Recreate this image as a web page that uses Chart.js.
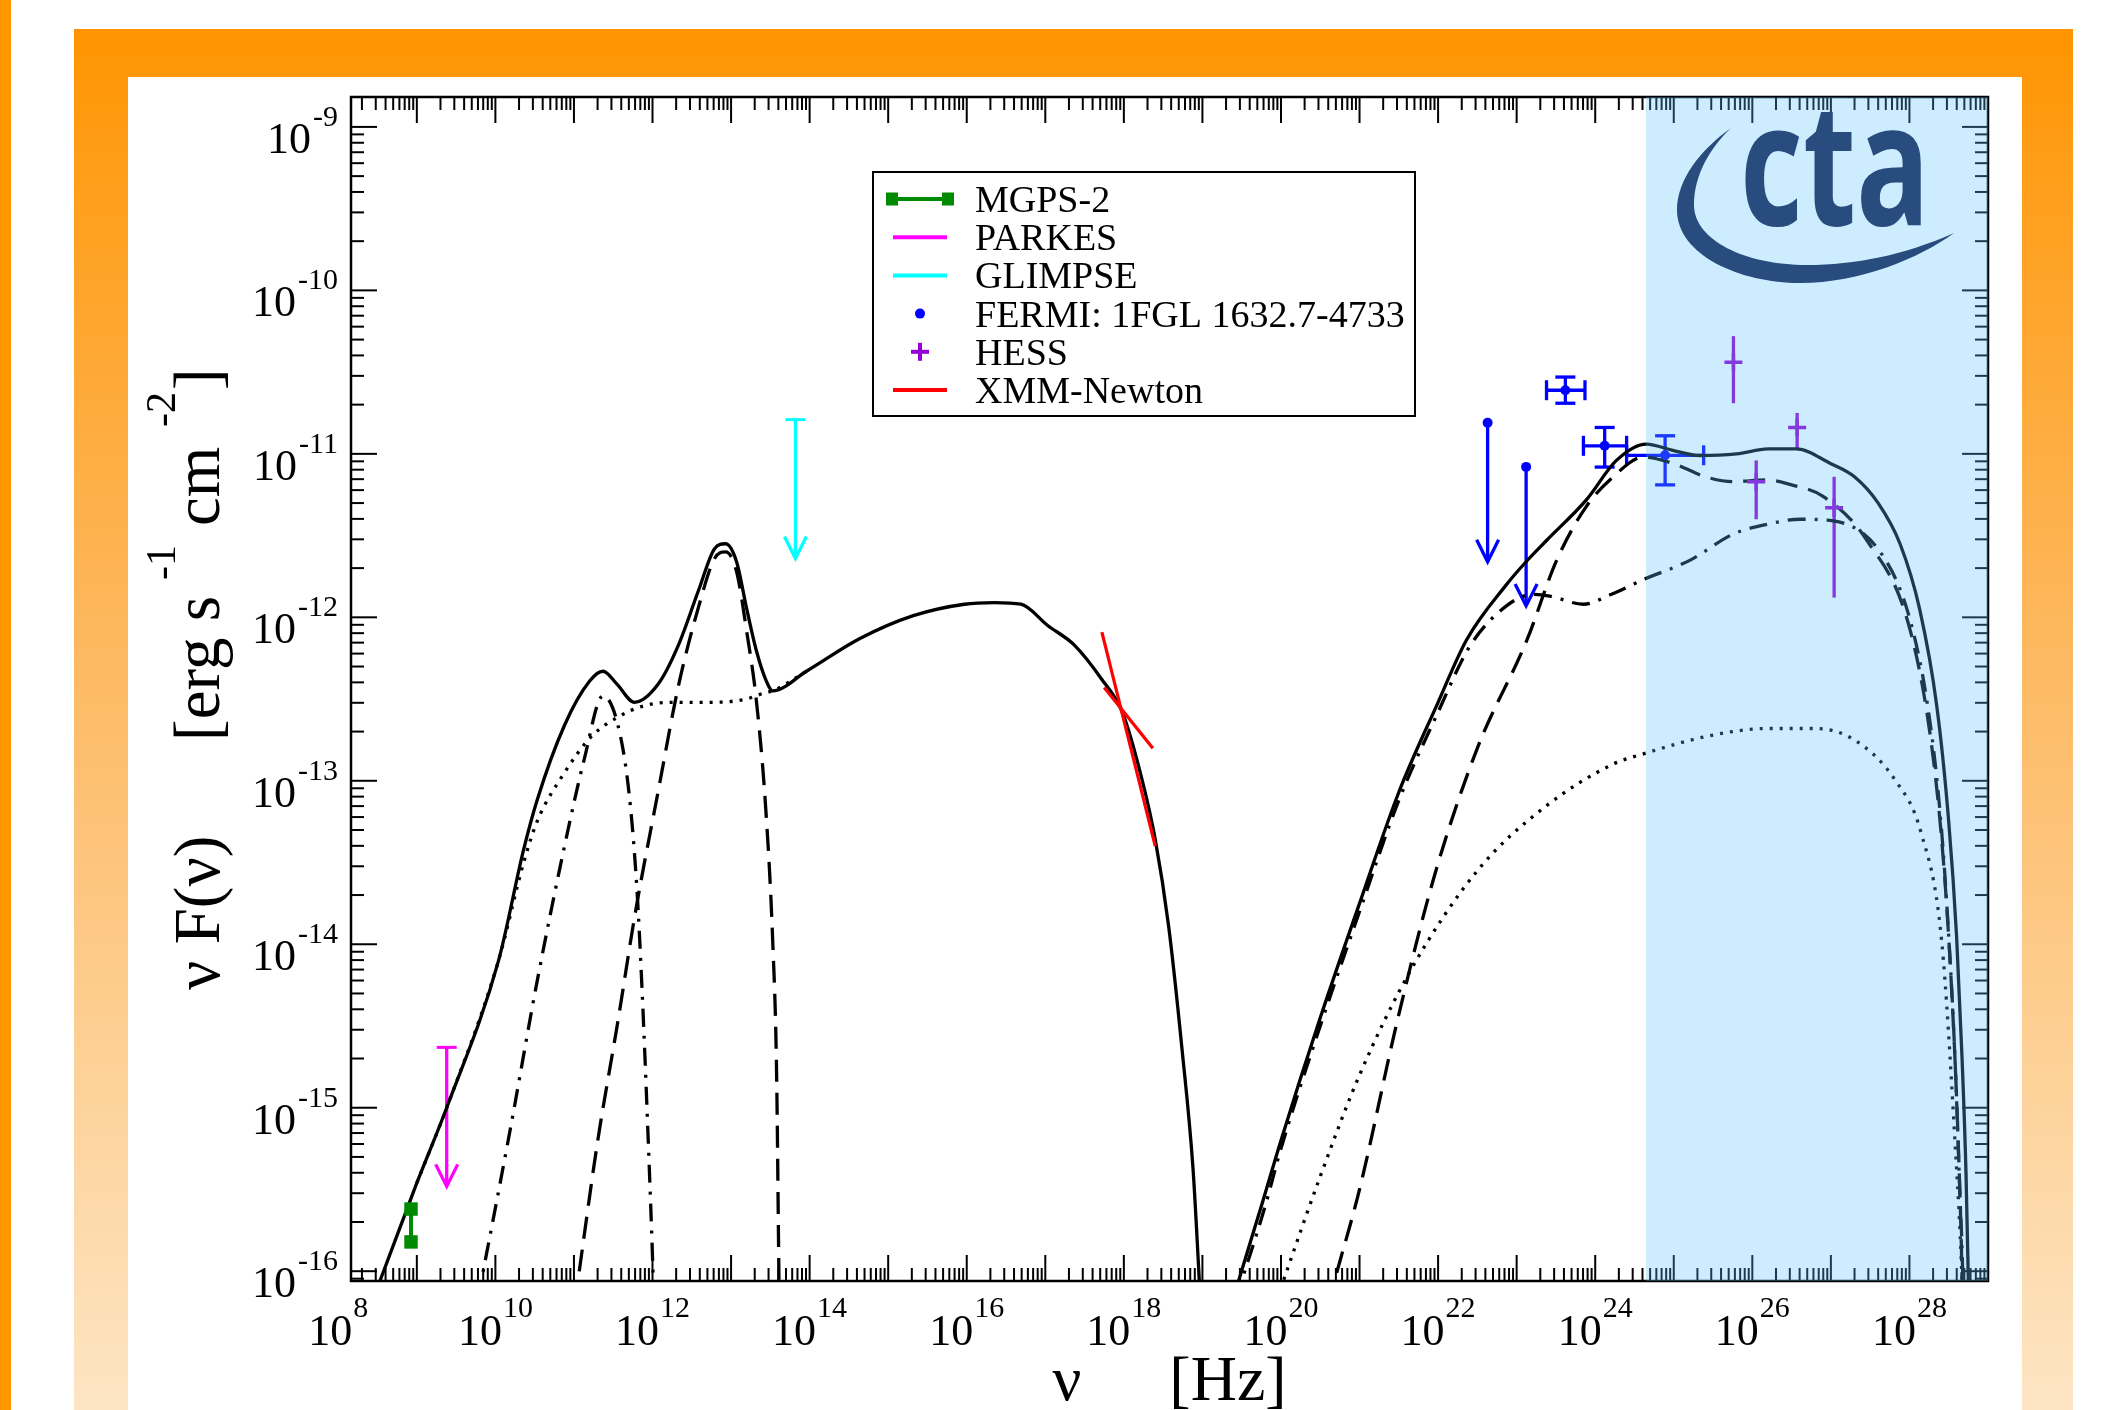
<!DOCTYPE html>
<html>
<head>
<meta charset="utf-8">
<title>SED — HESS J1632-478</title>
<script src="https://cdn.jsdelivr.net/npm/chart.js@4.4.1/dist/chart.umd.min.js"></script>
<style>
  html, body { margin:0; padding:0; background:#ffffff; }
  body { width:2107px; height:1410px; position:relative; overflow:hidden; }
  #strip { position:absolute; left:0; top:0; width:11px; height:1410px; background:#ff9800; }
  #frame { position:absolute; left:74px; top:29px; width:1999px; height:1381px;
           background:linear-gradient(to bottom, #ff9400 0%, #ff9c14 8%, #fdbb66 48%, #fde5c4 100%); }
  #panel { position:absolute; left:128px; top:77px; width:1894px; height:1333px; background:#ffffff; }
  #chart { position:absolute; left:0; top:0; }
</style>
</head>
<body>
<div id="strip"></div>
<div id="frame"></div>
<div id="panel"></div>
<canvas id="chart" width="2107" height="1410"></canvas>
<script>
// ================= DATA =================
// axis ranges, in log10 units
const X_LOG_RANGE = [8.162, 29.0];
const Y_LOG_RANGE = [-16.06, -8.817];

// tick labels (powers of ten)
const xTickExponents = [8, 10, 12, 14, 16, 18, 20, 22, 24, 26, 28];
const yTickExponents = [-9, -10, -11, -12, -13, -14, -15, -16];

// CTA energy band (Hz)
const ctaBandNu = [4.43e24, 1e29];

// ---- model curves: log10(nu / Hz) and log10(nu F(nu) / erg s^-1 cm^-2) ----
const totalLowLogNu = [8.40, 8.53, 9.00, 9.38, 10.04, 10.36, 10.53, 10.88, 11.20, 11.37, 11.55, 11.77, 12.07, 12.33, 12.59, 12.79, 12.93, 13.07, 13.20, 13.32, 13.44, 13.53, 13.96, 14.64, 15.32, 15.97, 16.35, 16.69, 17.03, 17.37, 17.72, 17.98, 18.23, 18.40, 18.57, 18.74, 18.88, 18.96, 19.00];
const totalLowLogF  = [-16.22, -16.06, -15.46, -15.00, -14.10, -13.42, -13.12, -12.66, -12.39, -12.33, -12.41, -12.52, -12.41, -12.17, -11.83, -11.58, -11.55, -11.66, -11.95, -12.20, -12.38, -12.45, -12.33, -12.13, -11.99, -11.92, -11.91, -11.92, -12.05, -12.17, -12.38, -12.58, -12.99, -13.36, -13.89, -14.64, -15.37, -16.05, -16.40];

const dottedLowLogNu = [9.00, 9.38, 10.04, 10.36, 10.53, 10.88, 11.22, 11.56, 11.90, 12.25, 12.76, 13.19, 13.44, 13.53, 13.96];
const dottedLowLogF  = [-15.46, -15.00, -14.10, -13.50, -13.25, -12.95, -12.73, -12.61, -12.54, -12.52, -12.52, -12.50, -12.46, -12.45, -12.33];

const dashDotLowLogNu = [9.68, 9.82, 10.19, 10.53, 10.88, 11.13, 11.37, 11.56, 11.70, 11.80, 11.87, 11.94, 12.01, 12.03];
const dashDotLowLogF  = [-16.40, -16.06, -15.13, -14.23, -13.40, -12.87, -12.48, -12.66, -13.07, -13.65, -14.31, -15.13, -16.06, -16.40];

const dashedLowLogNu = [10.95, 11.05, 11.30, 11.56, 11.78, 12.07, 12.33, 12.59, 12.79, 12.93, 13.07, 13.20, 13.32, 13.44, 13.53, 13.58, 13.61, 13.62];
const dashedLowLogF  = [-16.40, -16.06, -15.21, -14.47, -13.81, -13.07, -12.42, -11.93, -11.64, -11.60, -11.72, -12.09, -12.50, -13.16, -13.98, -14.80, -16.06, -16.40];

const totalHighLogNu = [19.25, 19.46, 19.77, 20.00, 20.50, 21.00, 21.50, 22.00, 22.36, 22.87, 23.12, 23.38, 23.89, 24.27, 24.65, 25.00, 25.33, 25.80, 26.20, 26.56, 27.00, 27.30, 27.60, 27.88, 28.13, 28.35, 28.50, 28.60, 28.67, 28.72, 28.75, 28.76];
const totalHighLogF  = [-16.40, -16.06, -15.57, -15.20, -14.45, -13.75, -13.07, -12.52, -12.14, -11.80, -11.66, -11.53, -11.28, -11.04, -10.94, -10.98, -11.01, -11.00, -10.97, -10.97, -11.06, -11.14, -11.30, -11.55, -11.95, -12.55, -13.25, -13.95, -14.70, -15.40, -16.06, -16.40];

const dashDotHighLogNu = [19.28, 19.50, 19.80, 20.00, 20.50, 21.00, 21.50, 22.00, 22.40, 22.87, 23.21, 23.42, 23.85, 24.20, 24.61, 25.21, 25.76, 26.20, 26.61, 27.03, 27.67, 28.01, 28.25, 28.40, 28.50, 28.58, 28.64, 28.68, 28.69];
const dashDotHighLogF  = [-16.40, -16.06, -15.60, -15.25, -14.50, -13.80, -13.12, -12.58, -12.18, -11.93, -11.86, -11.87, -11.92, -11.86, -11.77, -11.65, -11.49, -11.43, -11.40, -11.41, -11.63, -12.02, -12.60, -13.25, -13.95, -14.70, -15.50, -16.06, -16.40];

const dashedHighLogNu = [20.49, 20.68, 21.00, 21.48, 21.96, 22.50, 23.13, 23.51, 23.89, 24.23, 24.61, 25.00, 25.40, 25.75, 26.18, 26.50, 26.90, 27.46, 28.01, 28.30, 28.45, 28.55, 28.62, 28.67, 28.68];
const dashedHighLogF  = [-16.40, -16.06, -15.50, -14.47, -13.57, -12.80, -12.14, -11.65, -11.32, -11.14, -11.02, -11.06, -11.14, -11.17, -11.16, -11.19, -11.26, -11.53, -12.08, -12.85, -13.60, -14.40, -15.20, -16.06, -16.40];

const dottedHighLogNu = [19.79, 20.03, 20.50, 21.00, 21.65, 22.50, 23.36, 24.22, 24.65, 25.50, 26.20, 26.79, 27.30, 27.81, 28.15, 28.41, 28.58, 28.67, 28.69];
const dottedHighLogF  = [-16.40, -16.06, -15.42, -14.80, -14.16, -13.55, -13.16, -12.90, -12.83, -12.72, -12.68, -12.68, -12.75, -12.99, -13.32, -13.98, -15.21, -16.06, -16.40];

// ---- observations (nu in Hz, nuF(nu) in erg s^-1 cm^-2) ----
const mgpsNu   = [8.43e8, 8.43e8];
const mgpsFlux = [1.51e-16, 2.40e-16];

const parkesNu         = [2.4e9];
const parkesUpperLimit = [2.34e-15];

const glimpseNu         = [6.6e13];
const glimpseUpperLimit = [1.62e-11];

const fermiNu     = [4.17e23, 1.32e24, 7.76e24];
const fermiNuLo   = [2.40e23, 7.08e23, 2.51e24];
const fermiNuHi   = [7.41e23, 2.51e24, 2.40e25];
const fermiFlux   = [2.45e-11, 1.12e-11, 9.8e-12];
const fermiFluxLo = [2.04e-11, 8.3e-12, 6.46e-12];
const fermiFluxHi = [2.95e-11, 1.45e-11, 1.29e-11];

const fermiUlNu   = [4.27e22, 1.32e23];
const fermiUlFlux = [1.55e-11, 8.32e-12];

const hessNu     = [5.75e25, 1.12e26, 3.72e26, 1.10e27];
const hessFlux   = [3.63e-11, 6.76e-12, 1.45e-11, 4.68e-12];
const hessFluxLo = [2.04e-11, 3.98e-12, 1.07e-11, 1.32e-12];
const hessFluxHi = [5.25e-11, 9.12e-12, 1.78e-11, 7.24e-12];

const xmmSteepNu     = [5.25e17, 2.51e18];
const xmmSteepFlux   = [8.13e-13, 3.98e-14];
const xmmShallowNu   = [5.62e17, 2.34e18];
const xmmShallowFlux = [3.72e-13, 1.58e-13];

// ================= BUILD =================
const pts  = (xs, ys) => xs.map((x, i) => ({ x, y: ys[i] }));
const lpts = (lx, ly) => lx.map((x, i) => ({ x: 10 ** x, y: 10 ** ly[i] }));

const DASHED = [22, 11], DASHDOT = [18, 9, 3, 9], DOTTED = [3, 7];
function model(label, lx, ly, dash) {
  return { label, data: lpts(lx, ly), borderColor: '#000000', borderWidth: 3.3,
           borderDash: dash || [], pointRadius: 0, fill: false,
           cubicInterpolationMode: 'monotone' };
}

const datasets = [
  { label: 'CTA band', data: [{ x: ctaBandNu[0], y: 10 ** Y_LOG_RANGE[1] }, { x: ctaBandNu[1], y: 10 ** Y_LOG_RANGE[1] }],
    fill: 'start', backgroundColor: 'rgba(90,193,250,0.30)', borderColor: 'rgba(0,0,0,0)', borderWidth: 1, pointRadius: 0 },

  { label: 'MGPS-2', data: pts(mgpsNu, mgpsFlux), showLine: true,
    borderColor: '#008a00', backgroundColor: '#008a00', borderWidth: 4,
    pointStyle: 'rect', pointRadius: 9.5, pointBorderWidth: 0, pointBackgroundColor: '#008a00',
    legendSymbol: 'lineSquares', legendIndex: 0 },
  { label: 'PARKES', data: pts(parkesNu, parkesUpperLimit), showLine: false,
    borderColor: '#ff00ff', pointStyle: 'line', pointRadius: 10, pointBorderWidth: 3, pointBorderColor: '#ff00ff',
    upperLimit: true, legendSymbol: 'line', legendIndex: 1 },
  { label: 'GLIMPSE', data: pts(glimpseNu, glimpseUpperLimit), showLine: false,
    borderColor: '#00ffff', pointStyle: 'line', pointRadius: 10, pointBorderWidth: 3, pointBorderColor: '#00ffff',
    upperLimit: true, legendSymbol: 'line', legendIndex: 2 },
  { label: 'FERMI: 1FGL 1632.7-4733', data: pts(fermiNu, fermiFlux), showLine: false,
    borderColor: '#0000ff', pointStyle: 'circle', pointRadius: 5, pointBorderWidth: 0, pointBackgroundColor: '#0000ff',
    errorBars: { xLo: fermiNuLo, xHi: fermiNuHi, yLo: fermiFluxLo, yHi: fermiFluxHi, caps: true },
    legendSymbol: 'dot', legendIndex: 3 },
  { label: 'FERMI upper limits', data: pts(fermiUlNu, fermiUlFlux), showLine: false,
    borderColor: '#0000ff', pointStyle: 'circle', pointRadius: 5, pointBorderWidth: 0, pointBackgroundColor: '#0000ff',
    upperLimit: true },
  { label: 'HESS', data: pts(hessNu, hessFlux), showLine: false,
    borderColor: '#9400d3', pointStyle: 'cross', pointRadius: 9, pointBorderWidth: 3.5, pointBorderColor: '#9400d3',
    errorBars: { yLo: hessFluxLo, yHi: hessFluxHi, caps: false },
    legendSymbol: 'plus', legendIndex: 4 },
  { label: 'XMM-Newton', data: pts(xmmSteepNu, xmmSteepFlux), borderColor: '#ff0000', borderWidth: 3.2, pointRadius: 0,
    legendSymbol: 'line', legendIndex: 5 },
  { label: 'XMM-Newton (2)', data: pts(xmmShallowNu, xmmShallowFlux), borderColor: '#ff0000', borderWidth: 3.2, pointRadius: 0 },

  model('total (low)', totalLowLogNu, totalLowLogF),
  model('synchrotron', dottedLowLogNu, dottedLowLogF, DOTTED),
  model('component A (low)', dashDotLowLogNu, dashDotLowLogF, DASHDOT),
  model('component B (low)', dashedLowLogNu, dashedLowLogF, DASHED),
  model('total (high)', totalHighLogNu, totalHighLogF),
  model('component A (high)', dashDotHighLogNu, dashDotHighLogF, DASHDOT),
  model('component B (high)', dashedHighLogNu, dashedHighLogF, DASHED),
  model('component C (high)', dottedHighLogNu, dottedHighLogF, DOTTED)
];

// ================= DECORATION PLUGIN =================
const SERIF = '"Liberation Serif", "Times New Roman", Times, serif';
const TICK_MAJOR = 26, TICK_MINOR = 13;
const ARROW_LEN = 139, ARROW_HEAD = 22, ARROW_HALF = 11, CAP_HALF = 10;

function seg(ctx, x1, y1, x2, y2) { ctx.beginPath(); ctx.moveTo(x1, y1); ctx.lineTo(x2, y2); ctx.stroke(); }

function eachLogTick(scale, fn) {
  const lo = Math.floor(Math.log10(scale.min)), hi = Math.ceil(Math.log10(scale.max));
  for (let e = lo; e <= hi; e++) {
    for (let m = 1; m <= 9; m++) {
      const v = m * Math.pow(10, e);
      if (v < scale.min * 0.9995 || v > scale.max * 1.0005) continue;
      fn(scale.getPixelForValue(v), m === 1 ? TICK_MAJOR : TICK_MINOR);
    }
  }
}

function powerLabel(ctx, exp, mainPx, supPx, gap) {
  ctx.font = mainPx + 'px ' + SERIF;
  const w1 = ctx.measureText('10').width;
  ctx.font = supPx + 'px ' + SERIF;
  const w2 = ctx.measureText(String(exp)).width;
  return { w1, w2, total: w1 + gap + w2 };
}
function drawPower(ctx, exp, left, base, mainPx, supPx, raise, gap) {
  const m = powerLabel(ctx, exp, mainPx, supPx, gap);
  ctx.font = mainPx + 'px ' + SERIF;
  ctx.fillText('10', left, base);
  ctx.font = supPx + 'px ' + SERIF;
  ctx.fillText(String(exp), left + m.w1 + gap, base - raise);
}

const sedDecor = {
  id: 'sedDecor',
  beforeDatasetsDraw(chart) {
    const { ctx, chartArea: a, scales: { x, y } } = chart;
    ctx.save();
    ctx.strokeStyle = '#000'; ctx.lineWidth = 2; ctx.lineCap = 'butt';
    eachLogTick(x, (p, len) => { seg(ctx, p, a.bottom, p, a.bottom - len); seg(ctx, p, a.top, p, a.top + len); });
    eachLogTick(y, (p, len) => { seg(ctx, a.left, p, a.left + len, p); seg(ctx, a.right, p, a.right - len, p); });
    ctx.lineWidth = 2.5;
    ctx.strokeRect(a.left, a.top, a.right - a.left, a.bottom - a.top);

    ctx.beginPath(); ctx.rect(a.left, a.top, a.right - a.left, a.bottom - a.top); ctx.clip();
    chart.data.datasets.forEach(ds => {
      if (!ds.errorBars && !ds.upperLimit) return;
      ctx.strokeStyle = ds.borderColor; ctx.lineWidth = 3.3;
      ds.data.forEach((pt, i) => {
        const px = x.getPixelForValue(pt.x), py = y.getPixelForValue(pt.y);
        const eb = ds.errorBars;
        if (eb && eb.yLo) {
          const y1 = y.getPixelForValue(eb.yLo[i]), y2 = y.getPixelForValue(eb.yHi[i]);
          seg(ctx, px, y1, px, y2);
          if (eb.caps) { seg(ctx, px - CAP_HALF, y1, px + CAP_HALF, y1); seg(ctx, px - CAP_HALF, y2, px + CAP_HALF, y2); }
        }
        if (eb && eb.xLo) {
          const x1 = x.getPixelForValue(eb.xLo[i]), x2 = x.getPixelForValue(eb.xHi[i]);
          seg(ctx, x1, py, x2, py);
          if (eb.caps) { seg(ctx, x1, py - CAP_HALF, x1, py + CAP_HALF); seg(ctx, x2, py - CAP_HALF, x2, py + CAP_HALF); }
        }
        if (ds.upperLimit) {
          const tip = py + ARROW_LEN;
          seg(ctx, px, py, px, tip);
          ctx.beginPath();
          ctx.moveTo(px - ARROW_HALF, tip - ARROW_HEAD); ctx.lineTo(px, tip); ctx.lineTo(px + ARROW_HALF, tip - ARROW_HEAD);
          ctx.stroke();
        }
      });
    });
    ctx.restore();
  },
  afterDraw(chart) {
    const { ctx, chartArea: a, scales: { x, y } } = chart;
    ctx.save();
    ctx.fillStyle = '#000'; ctx.textAlign = 'left'; ctx.textBaseline = 'alphabetic';

    // x tick labels
    xTickExponents.forEach(e => {
      const cx = x.getPixelForValue(Math.pow(10, e));
      const m = powerLabel(ctx, e, 44, 30, 1);
      drawPower(ctx, e, cx - m.total / 2, a.bottom + 64, 44, 30, 28, 1);
    });
    // y tick labels
    yTickExponents.forEach(e => {
      const cy = y.getPixelForValue(Math.pow(10, e));
      const m = powerLabel(ctx, e, 44, 30, 2);
      drawPower(ctx, e, a.left - 13 - m.total, cy + 26, 44, 30, 27, 2);
    });

    // y title (rotated, reading upward); 'at' = offset along the baseline from its lower end
    const MAIN = 65, SUP = 42, RAISE = 44;
    const parts = [
      { t: '\u03bd F(\u03bd)', at: 0 }, { t: '[erg s', at: 249 }, { t: '-1', sup: true, at: 410 },
      { t: 'cm', at: 464 }, { t: '-2', sup: true, at: 563 }, { t: ']', at: 600 }
    ];
    ctx.save();
    ctx.translate(a.left - 132, 990);
    ctx.rotate(-Math.PI / 2);
    parts.forEach(p => {
      ctx.font = (p.sup ? SUP : MAIN) + 'px ' + SERIF;
      ctx.fillText(p.t, p.at, p.sup ? -RAISE : 0);
    });
    ctx.restore();

    // x title
    ctx.font = '64px ' + SERIF;
    const wNu = ctx.measureText('\u03bd').width, wHz = ctx.measureText('[Hz]').width;
    const xGap = 88, xc = (a.left + a.right) / 2;
    const xl = xc - (wNu + xGap + wHz) / 2;
    ctx.fillText('\u03bd', xl, 1400);
    ctx.fillText('[Hz]', xl + wNu + xGap, 1400);

    // legend
    const L = { left: 873, top: 172, w: 542, h: 244, row0: 199, dy: 38.2, s0: 893, s1: 947, tx: 975 };
    ctx.fillStyle = '#fff'; ctx.fillRect(L.left, L.top, L.w, L.h);
    ctx.strokeStyle = '#000'; ctx.lineWidth = 2; ctx.strokeRect(L.left, L.top, L.w, L.h);
    const items = chart.data.datasets.filter(d => d.legendSymbol).sort((p, q) => p.legendIndex - q.legendIndex);
    items.forEach((d, i) => {
      const cy = L.row0 + i * L.dy, mid = (L.s0 + L.s1) / 2;
      ctx.strokeStyle = d.borderColor; ctx.fillStyle = d.borderColor; ctx.lineWidth = 4;
      if (d.legendSymbol === 'line') seg(ctx, L.s0, cy, L.s1, cy);
      if (d.legendSymbol === 'lineSquares') {
        seg(ctx, L.s0 - 4, cy, L.s1 + 4, cy);
        ctx.fillRect(L.s0 - 7, cy - 6.5, 12, 13); ctx.fillRect(L.s1 - 5, cy - 6.5, 12, 13);
      }
      if (d.legendSymbol === 'dot') { ctx.beginPath(); ctx.arc(mid, cy, 5, 0, Math.PI * 2); ctx.fill(); }
      if (d.legendSymbol === 'plus') { seg(ctx, mid - 9, cy, mid + 9, cy); seg(ctx, mid, cy - 9, mid, cy + 9); }
      ctx.fillStyle = '#000'; ctx.font = '38px ' + SERIF;
      ctx.fillText(d.label, L.tx, cy + 13);
    });

    // CTA logo
    ctx.fillStyle = '#274c7d';
    ctx.beginPath();
    ctx.moveTo(1731, 128);
    ctx.bezierCurveTo(1700, 150, 1677, 180, 1677, 210);
    ctx.bezierCurveTo(1677, 255, 1740, 283, 1800, 283);
    ctx.bezierCurveTo(1860, 283, 1920, 258, 1954, 233);
    ctx.bezierCurveTo(1905, 255, 1855, 265, 1807, 265);
    ctx.bezierCurveTo(1745, 265, 1694, 240, 1694, 205);
    ctx.bezierCurveTo(1694, 175, 1710, 148, 1731, 128);
    ctx.closePath(); ctx.fill();
    ctx.font = 'bold 170px "Open Sans", "DejaVu Sans", sans-serif';
    const wl = ctx.measureText('cta').width;
    ctx.save(); ctx.translate(1740, 225); ctx.scale(190 / wl, 1); ctx.fillText('cta', 0, 0); ctx.restore();

    ctx.restore();
  }
};

new Chart(document.getElementById('chart'), {
  type: 'line',
  data: { datasets },
  options: {
    responsive: false, animation: false, devicePixelRatio: 1, events: [],
    layout: { padding: { left: 351, top: 97, right: 2107 - 1988, bottom: 1410 - 1281 } },
    scales: {
      x: { type: 'logarithmic', display: false, bounds: 'data', min: 10 ** X_LOG_RANGE[0], max: 10 ** X_LOG_RANGE[1] },
      y: { type: 'logarithmic', display: false, bounds: 'data', min: 10 ** Y_LOG_RANGE[0], max: 10 ** Y_LOG_RANGE[1] }
    },
    plugins: { legend: { display: false }, tooltip: { enabled: false } }
  },
  plugins: [sedDecor]
});
</script>
</body>
</html>
